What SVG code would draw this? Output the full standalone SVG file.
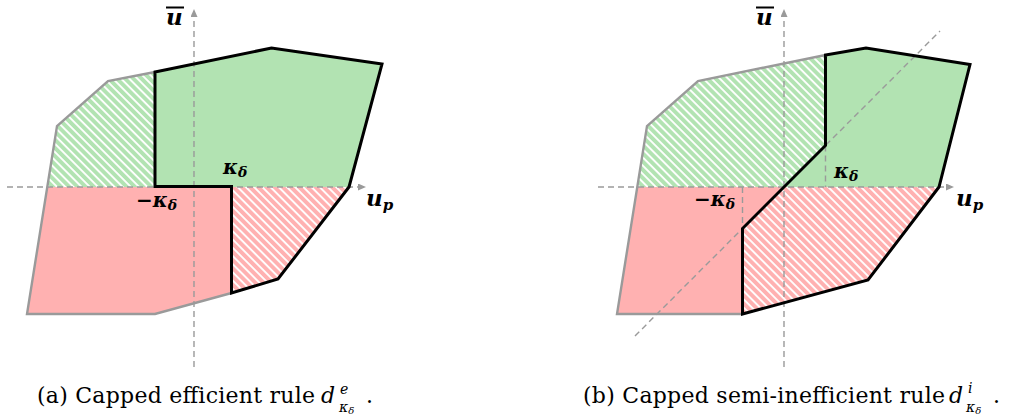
<svg xmlns="http://www.w3.org/2000/svg" width="1009" height="417" viewBox="0 0 1009 417">
<style>
.gs{fill:#b2e3b2;stroke:none}
.rs{fill:#ffb1b1;stroke:none}
.gh{fill:url(#hatchG);stroke:none}
.rh{fill:url(#hatchR);stroke:none}
.ax{fill:none;stroke:#9a9a9a;stroke-width:1.4;stroke-dasharray:6,4}
.ax2{fill:none;stroke:#9a9a9a;stroke-width:1.4;stroke-dasharray:6,4;marker-end:url(#arr)}
.blk{fill:none;stroke:#000;stroke-width:3;stroke-linejoin:miter}
.gry{fill:none;stroke:#9a9a9a;stroke-width:2.4;stroke-linejoin:miter}
</style>
<defs>
<pattern id="hatchG" patternUnits="userSpaceOnUse" width="5.8" height="10" patternTransform="rotate(-45)">
<rect width="5.8" height="10" fill="#b2e3b2"/>
<line x1="1" y1="0" x2="1" y2="10" stroke="#ffffff" stroke-width="1.9"/>
</pattern>
<pattern id="hatchR" patternUnits="userSpaceOnUse" width="5.8" height="10" patternTransform="rotate(-45)">
<rect width="5.8" height="10" fill="#ffb1b1"/>
<line x1="1" y1="0" x2="1" y2="10" stroke="#ffffff" stroke-width="1.9"/>
</pattern>
<marker id="arr" markerUnits="userSpaceOnUse" markerWidth="9" markerHeight="8" refX="1" refY="3.5" orient="auto">
<path d="M0,0 L8,3.5 L0,7 z" fill="#9a9a9a"/>
</marker>
</defs>

<g id="panel-a">
<g id="a-regions">
<polygon class="gh" points="47,187 57,126 108,81 155,72 155,187"/>
<polygon class="gs" points="155,72 271.5,48 382,64 349,187 155,187"/>
<polygon class="rs" points="47,187 231.5,187 231.5,293 155,314 27,314"/>
<polygon class="rh" points="231.5,187 349,187 278,279 231.5,293"/>
</g>
<g id="a-axes">
<line class="ax2" x1="194" y1="367" x2="194" y2="16"/>
<line class="ax2" x1="7" y1="187" x2="359" y2="187"/>
</g>
<g id="a-boundary">
<polyline class="gry" points="155,72 108,81 57,126 27,314 155,314 231.5,293"/>
<polygon class="blk" points="155,72 271.5,48 382,64 349,187 278,279 231.5,293 231.5,186.5 155,186.5"/>
</g>
<g id="a-labels" font-family="'DejaVu Serif', 'Liberation Serif', serif" font-weight="bold" font-style="italic" fill="#000">
<text x="166" y="25" font-size="23">u</text>
<line x1="166" y1="7.5" x2="184" y2="7.5" stroke="#000" stroke-width="2"/>
<text x="366" y="206" font-size="23">u<tspan font-size="15" dy="4">p</tspan></text>
<text x="223" y="174" font-size="20">κ<tspan font-size="14" dy="3">δ</tspan></text>
<text x="136" y="207" font-size="20">−κ<tspan font-size="14" dy="3">δ</tspan></text>
</g>
<g id="a-caption" font-family="'DejaVu Serif', 'Liberation Serif', serif" fill="#000">
<text x="37" y="403" font-size="22" textLength="278" lengthAdjust="spacing">(a) Capped efficient rule</text>
<text x="321" y="403" font-size="22" font-style="italic">d</text>
<text x="340" y="394" font-size="14" font-style="italic">e</text>
<text x="339" y="412" font-size="14" font-style="italic">κ<tspan font-size="10" dy="2">δ</tspan></text>
<text x="366" y="403" font-size="22">.</text>
</g>
</g>

<g id="panel-b">
<g id="b-regions">
<polygon class="gh" points="637,187 647,126 698,81 825.5,55 825.5,145.5 784,187"/>
<polygon class="gs" points="825.5,55 866,48 970,64.5 939,187 784,187 825.5,145.5"/>
<polygon class="rs" points="637,187 784,187 742.5,228.5 742.5,314 617,314"/>
<polygon class="rh" points="784,187 939,187 868,280 742.5,314 742.5,228.5"/>
</g>
<g id="b-axes">
<line class="ax2" x1="784" y1="367" x2="784" y2="16"/>
<line class="ax2" x1="598" y1="187" x2="947" y2="187"/>
<line class="ax" x1="635" y1="336" x2="940" y2="31"/>
<line class="ax" x1="825.5" y1="145.5" x2="825.5" y2="187"/>
<line class="ax" x1="742.5" y1="187" x2="742.5" y2="228.5"/>
</g>
<g id="b-boundary">
<polyline class="gry" points="825.5,55 698,81 647,126 617,314 742.5,314"/>
<polygon class="blk" points="742.5,314 868,280 939,187 970,64.5 866,48 825.5,55 825.5,145.5 742.5,228.5"/>
</g>
<g id="b-labels" font-family="'DejaVu Serif', 'Liberation Serif', serif" font-weight="bold" font-style="italic" fill="#000">
<text x="756" y="25" font-size="23">u</text>
<line x1="756" y1="7.5" x2="774" y2="7.5" stroke="#000" stroke-width="2"/>
<text x="956" y="206" font-size="23">u<tspan font-size="15" dy="4">p</tspan></text>
<text x="834" y="178" font-size="20">κ<tspan font-size="14" dy="3">δ</tspan></text>
<text x="694" y="206" font-size="20">−κ<tspan font-size="14" dy="3">δ</tspan></text>
</g>
<g id="b-caption" font-family="'DejaVu Serif', 'Liberation Serif', serif" fill="#000">
<text x="583" y="403" font-size="22" textLength="362" lengthAdjust="spacing">(b) Capped semi-inefficient rule</text>
<text x="949" y="403" font-size="22" font-style="italic">d</text>
<text x="968" y="393" font-size="14" font-style="italic">i</text>
<text x="966" y="412" font-size="14" font-style="italic">κ<tspan font-size="10" dy="2">δ</tspan></text>
<text x="993" y="403" font-size="22">.</text>
</g>
</g>
</svg>
